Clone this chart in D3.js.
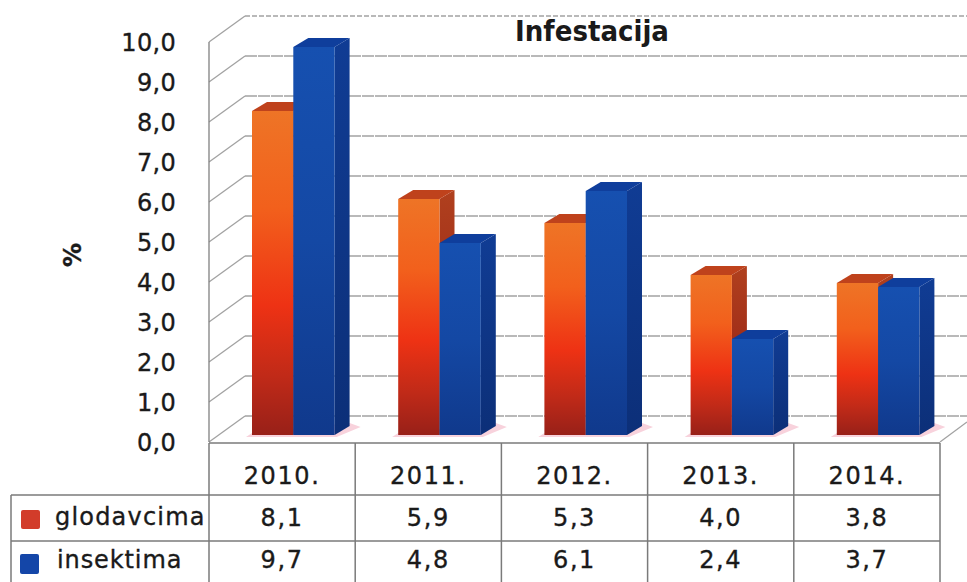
<!DOCTYPE html>
<html><head><meta charset="utf-8">
<script src="https://cdn.jsdelivr.net/npm/d3@7"></script>
<style>html,body{margin:0;background:#fff}svg{display:block}text{font-family:"DejaVu Sans",sans-serif;fill:#1a1a1a;stroke:#1a1a1a;stroke-width:.35px}</style>
</head><body><svg id="c" width="967" height="582"></svg>
<script>
const categories=["2010.","2011.","2012.","2013.","2014."];
const glodavcima=[8.1,5.9,5.3,4.0,3.8];
const insektima=[9.7,4.8,6.1,2.4,3.7];
const yTicks=[0,1,2,3,4,5,6,7,8,9,10];
const fmt=v=>v.toFixed(1).replace(".",",");
const svg=d3.select("#c");
const L=209,R=940,T=42,B=442;
const x=d3.scaleBand().domain(categories).range([L,R]);
const y=d3.scaleLinear().domain([0,10]).range([B,T]);
const dx=36,dy=-26,barBase=-7,bw=41.3,bdx=15,bdy=-9;
const defs=svg.append("defs");
function grad(id,stops){const g=defs.append("linearGradient").attr("id",id).attr("x1",0).attr("x2",0).attr("y1",0).attr("y2",1);
 stops.forEach(s=>g.append("stop").attr("offset",s[0]).attr("stop-color",s[1]));}
grad("rf",[[0,"#ee7426"],[.3,"#f2601c"],[.6,"#ee3214"],[.82,"#c02a18"],[1,"#982018"]]);
grad("rs",[[0,"#b0401e"],[.5,"#a02c18"],[1,"#7c1a12"]]);
grad("bf",[[0,"#1650b0"],[.5,"#1448a4"],[1,"#10398c"]]);
grad("bs",[[0,"#103c94"],[1,"#0c2f78"]]);
const grid=svg.append("g").attr("stroke","#a2a2a2").attr("stroke-width",1.3).attr("fill","none");
yTicks.forEach(t=>{
 const Y=y(t);
 grid.append("line").attr("x1",L+dx).attr("x2",967).attr("y1",Y+dy).attr("y2",Y+dy).attr("stroke-dasharray",t==10?"5 2":"12 1");
 grid.append("line").attr("x1",L).attr("x2",L+dx).attr("y1",Y).attr("y2",Y+dy);
});
grid.append("line").attr("x1",L).attr("x2",L).attr("y1",T).attr("y2",B).attr("stroke","#808080");
grid.append("line").attr("x1",R).attr("x2",967).attr("y1",B).attr("y2",B-20);
svg.append("g").selectAll("text").data(yTicks).join("text")
 .attr("x",176).attr("y",t=>y(t)+9).attr("text-anchor","end").attr("font-size",24).attr("letter-spacing",.3).text(fmt);
svg.append("text").attr("transform","translate(81,255) rotate(-90)").attr("text-anchor","middle").attr("font-size",24).attr("font-weight","bold").text("%");
svg.append("text").attr("x",592).attr("y",41).attr("text-anchor","middle").attr("font-size",29).attr("font-weight","bold").attr("style","font-family:'DejaVu Sans Condensed','DejaVu Sans';stroke-width:0").text("Infestacija");
function bar(g,xl,v,front,side,top){
 const yt=y(v)+barBase, yb=B+barBase;
 g.append("polygon").attr("points",[[xl+bw,yt],[xl+bw+bdx,yt+bdy],[xl+bw+bdx,yb+bdy],[xl+bw,yb]].join(" ")).attr("fill",`url(#${side})`);
 g.append("polygon").attr("points",[[xl,yt],[xl+bdx,yt+bdy],[xl+bw+bdx,yt+bdy],[xl+bw,yt]].join(" ")).attr("fill",top);
 g.append("rect").attr("x",xl).attr("y",yt).attr("width",bw).attr("height",yb-yt).attr("fill",`url(#${front})`);
}
const bars=svg.append("g");
categories.forEach((c,i)=>{
 const x0=x(c)+43;
 const g=bars.append("g");
 g.append("polygon").attr("points",[[x0-6,B-5],[x0+2*bw+2,B-5],[x0+2*bw+bdx+11,B-15],[x0+2*bw+bdx,B-19],[x0,B-9]].join(" ")).attr("fill","#f8d2dc");
 bar(g,x0,glodavcima[i],"rf","rs","#bf421c");
 bar(g,x0+bw,insektima[i],"bf","bs","#0f3e9c");
});
const tb=svg.append("g").attr("stroke","#7a7a7a").attr("stroke-width",1.5).attr("fill","none");
const edges=[...categories.map(c=>x(c)),R];
const rowY=[443,495,541,582];
edges.forEach(e=>tb.append("line").attr("x1",e).attr("x2",e).attr("y1",rowY[0]).attr("y2",582));
tb.append("line").attr("x1",11).attr("x2",11).attr("y1",rowY[1]).attr("y2",582);
tb.append("line").attr("x1",L).attr("x2",R).attr("y1",rowY[0]).attr("y2",rowY[0]);
tb.append("line").attr("x1",11).attr("x2",R).attr("y1",rowY[1]).attr("y2",rowY[1]);
tb.append("line").attr("x1",11).attr("x2",R).attr("y1",rowY[2]).attr("y2",rowY[2]);
const cell=(X,Y,s,a="middle")=>svg.append("text").attr("x",X).attr("y",Y).attr("text-anchor",a).attr("font-size",24).attr("letter-spacing",1.6).text(s);
categories.forEach((c,i)=>{
 const m=x(c)+x.bandwidth()/2;
 cell(m,484,c); cell(m,526,fmt(glodavcima[i])); cell(m,568,fmt(insektima[i]));
});
cell(55,525,"glodavcima","start").attr("letter-spacing",1.2);
cell(57,568,"insektima","start").attr("letter-spacing",.9);
svg.append("rect").attr("x",21).attr("y",510).attr("width",19).attr("height",19).attr("rx",2).attr("fill","#d23c2a");
svg.append("rect").attr("x",20).attr("y",554).attr("width",19).attr("height",20).attr("rx",2).attr("fill","#1446a8");
</script></body></html>
